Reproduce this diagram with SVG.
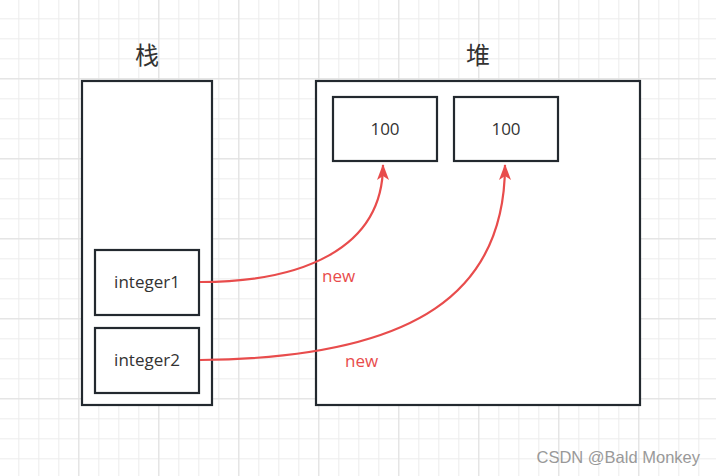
<svg xmlns="http://www.w3.org/2000/svg" width="716" height="476" viewBox="0 0 716 476">
<defs>
<pattern id="minor" width="20" height="20" patternUnits="userSpaceOnUse" x="-1.7" y="-1.7">
<path d="M0,0.5 H20 M0.5,0 V20" stroke="#ececec" stroke-width="1" fill="none"/>
</pattern>
<pattern id="major" width="80" height="80" patternUnits="userSpaceOnUse" x="-1.7" y="-1.7">
<path d="M0,0.5 H80 M0.5,0 V80" stroke="#e0e0e0" stroke-width="1" fill="none"/>
</pattern>
<marker id="arr" viewBox="0 0 16 12" refX="15" refY="6" markerWidth="16" markerHeight="12" markerUnits="userSpaceOnUse" orient="auto">
<path d="M0,0 L16,6 L0,12 L4,6 Z" fill="#e84c4c"/>
</marker>
<style>
.box{fill:#fff;stroke:#23292f;stroke-width:2.2}
.lbl{font-family:"Open Sans","Noto Sans",sans-serif;font-size:17px;fill:#333;text-anchor:middle}
.title{font-family:"Noto Sans CJK SC",sans-serif;font-size:24px;fill:#333;text-anchor:middle}
.edge{fill:none;stroke:#e84c4c;stroke-width:2.2}
.red{font-family:"Open Sans","Noto Sans",sans-serif;font-size:17px;font-weight:500;fill:#e84c4c}
</style>
</defs>
<rect width="716" height="476" fill="#fff"/>
<rect width="716" height="476" fill="url(#minor)"/>
<rect width="716" height="476" fill="url(#major)"/>
<text class="title" x="147" y="64">栈</text>
<text class="title" x="478" y="64">堆</text>
<g id="stack"><rect class="box" x="82" y="81" width="130" height="324"/></g>
<g id="heap"><rect class="box" x="316" y="81" width="324" height="324"/></g>
<g id="val1"><rect class="box" x="333" y="97" width="104" height="64"/><text class="lbl" x="385" y="135">100</text></g>
<g id="val2"><rect class="box" x="454" y="97" width="104" height="64"/><text class="lbl" x="506" y="135">100</text></g>
<g id="integer1"><rect class="box" x="95" y="250" width="104" height="65"/><text class="lbl" x="147" y="288">integer1</text></g>
<g id="integer2"><rect class="box" x="95" y="328" width="104" height="65"/><text class="lbl" x="147" y="366">integer2</text></g>
<g id="connectors">
<path class="edge" d="M200,282 C300,282 383,250 383,165" marker-end="url(#arr)"/>
<path class="edge" d="M200,360 C420,358 505,290 505,165" marker-end="url(#arr)"/>
<text class="red" x="322" y="282">new</text>
<text class="red" x="345" y="367">new</text>
</g>
<text x="700" y="463" text-anchor="end" font-family="Liberation Sans,Arial,sans-serif" font-size="16.5" fill="#999">CSDN @Bald Monkey</text>
</svg>
